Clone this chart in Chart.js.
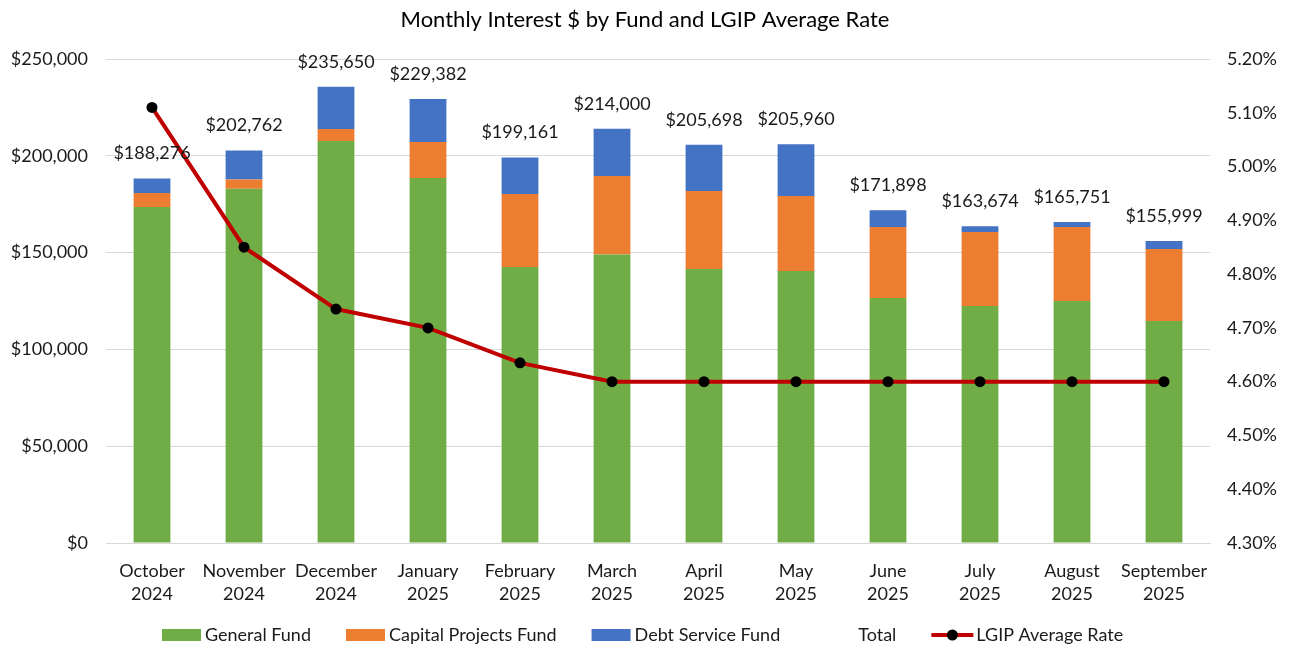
<!DOCTYPE html>
<html>
<head>
<meta charset="utf-8">
<script src="https://cdn.jsdelivr.net/npm/chart.js@4.4.1/dist/chart.umd.min.js"></script>
<style>
  html, body { margin: 0; padding: 0; background: #fff; }
  #wrap { width: 1290px; height: 645px; }
</style>
</head>
<body>
<div id="wrap"><canvas id="chart"></canvas></div>
<script>
// data
var months = [
  ["October", "2024"], ["November", "2024"], ["December", "2024"],
  ["January", "2025"], ["February", "2025"], ["March", "2025"],
  ["April", "2025"], ["May", "2025"], ["June", "2025"],
  ["July", "2025"], ["August", "2025"], ["September", "2025"]
];
var generalFund     = [173500, 183000, 207600, 188500, 142500, 149000, 141500, 140500, 126500, 122400, 125000, 114700];
var capitalProjects = [7300, 4700, 6200, 18600, 37800, 40600, 40300, 38700, 36700, 38200, 38200, 37200];
var debtService     = [7476, 15062, 21850, 22282, 18861, 24400, 23898, 26760, 8698, 3074, 2551, 4099];
var totals          = [188276, 202762, 235650, 229382, 199161, 214000, 205698, 205960, 171898, 163674, 165751, 155999];
var lgipRate        = [5.11, 4.85, 4.735, 4.70, 4.635, 4.60, 4.60, 4.60, 4.60, 4.60, 4.60, 4.60];

var FONT = "Lato";
var TEXT = "#1a1a1a";

function money(v) {
  return "$" + Math.round(v).toLocaleString("en-US");
}

// labels above each stack, taken from the Total series
var totalLabels = {
  id: "totalLabels",
  afterDatasetsDraw: function (chart) {
    var meta = chart.getDatasetMeta(3);
    var ctx = chart.ctx;
    ctx.save();
    ctx.font = "18px " + FONT;
    ctx.fillStyle = TEXT;
    ctx.textAlign = "center";
    ctx.textBaseline = "middle";
    meta.data.forEach(function (pt, i) {
      ctx.fillText(money(totals[i]), pt.x, pt.y - 25);
    });
    ctx.restore();
  }
};

// excel-like legend along the bottom
var bottomLegend = {
  id: "bottomLegend",
  afterDraw: function (chart) {
    var ctx = chart.ctx;
    var y = 635;
    var x = 162;
    ctx.save();
    ctx.font = "18px " + FONT;
    ctx.textBaseline = "middle";
    chart.data.datasets.forEach(function (ds) {
      if (ds.type === "line" && ds.showLine === false) {
        x += 39 + 4; // blank marker, like excel
      } else if (ds.type === "line") {
        ctx.strokeStyle = ds.borderColor;
        ctx.lineWidth = 4;
        ctx.beginPath();
        ctx.moveTo(x, y);
        ctx.lineTo(x + 42, y);
        ctx.stroke();
        ctx.fillStyle = ds.pointBackgroundColor;
        ctx.beginPath();
        ctx.arc(x + 21, y, 5.5, 0, Math.PI * 2);
        ctx.fill();
        x += 45;
      } else {
        ctx.fillStyle = ds.backgroundColor;
        ctx.fillRect(x, y - 6, 39, 12);
        x += 43;
      }
      ctx.fillStyle = TEXT;
      ctx.fillText(ds.label, x, y);
      x += ctx.measureText(ds.label).width + 35;
    });
    ctx.restore();
  }
};

var chart = new Chart(document.getElementById("chart").getContext("2d"), {
  type: "bar",
  data: {
    labels: months,
    datasets: [
      { label: "General Fund", data: generalFund, backgroundColor: "#70AD47", order: 1 },
      { label: "Capital Projects Fund", data: capitalProjects, backgroundColor: "#ED7D31", order: 1 },
      { label: "Debt Service Fund", data: debtService, backgroundColor: "#4472C4", order: 1 },
      {
        label: "Total", type: "line", data: totals, stack: "total",
        showLine: false, pointRadius: 0, borderColor: "transparent", order: 0
      },
      {
        label: "LGIP Average Rate", type: "line", data: lgipRate, yAxisID: "y1",
        borderColor: "#C00000", borderWidth: 4, tension: 0,
        pointRadius: 5.5, pointBackgroundColor: "#000", pointBorderWidth: 0,
        order: 0
      }
    ]
  },
  options: {
    responsive: true,
    maintainAspectRatio: false,
    animation: false,
    categoryPercentage: 0.4,
    barPercentage: 1,
    layout: { padding: { top: 7, left: 0, right: 0, bottom: 0 } },
    plugins: {
      legend: { display: false },
      tooltip: { enabled: false },
      title: {
        display: true,
        text: "Monthly Interest $ by Fund and LGIP Average Rate",
        color: "#000",
        font: { family: FONT, size: 22, weight: "normal", lineHeight: 1.2 },
        padding: { top: 0, bottom: 25.6 }
      }
    },
    scales: {
      x: {
        stacked: true,
        grid: { display: false },
        border: { display: true, color: "#d9d9d9", width: 1 },
        ticks: {
          color: TEXT, padding: 8, maxRotation: 0, autoSkip: false,
          font: { family: FONT, size: 18, lineHeight: 1.32 }
        },
        afterFit: function (s) { s.height = 102; }
      },
      y: {
        stacked: true,
        position: "left",
        min: 0, max: 250000,
        grid: { color: "#d9d9d9", drawTicks: false },
        border: { display: false },
        ticks: {
          stepSize: 50000, padding: 18, color: TEXT,
          font: { family: FONT, size: 18 },
          callback: function (v) { return money(v); }
        },
        afterFit: function (s) { s.width = 106; }
      },
      y1: {
        position: "right",
        min: 4.3, max: 5.2,
        grid: { display: false, drawTicks: false },
        border: { display: false },
        ticks: {
          stepSize: 0.1, padding: 17, color: TEXT,
          font: { family: FONT, size: 18 },
          callback: function (v) { return v.toFixed(2) + "%"; }
        },
        afterFit: function (s) { s.width = 80; }
      }
    }
  },
  plugins: [totalLabels, bottomLegend]
});
</script>
</body>
</html>
